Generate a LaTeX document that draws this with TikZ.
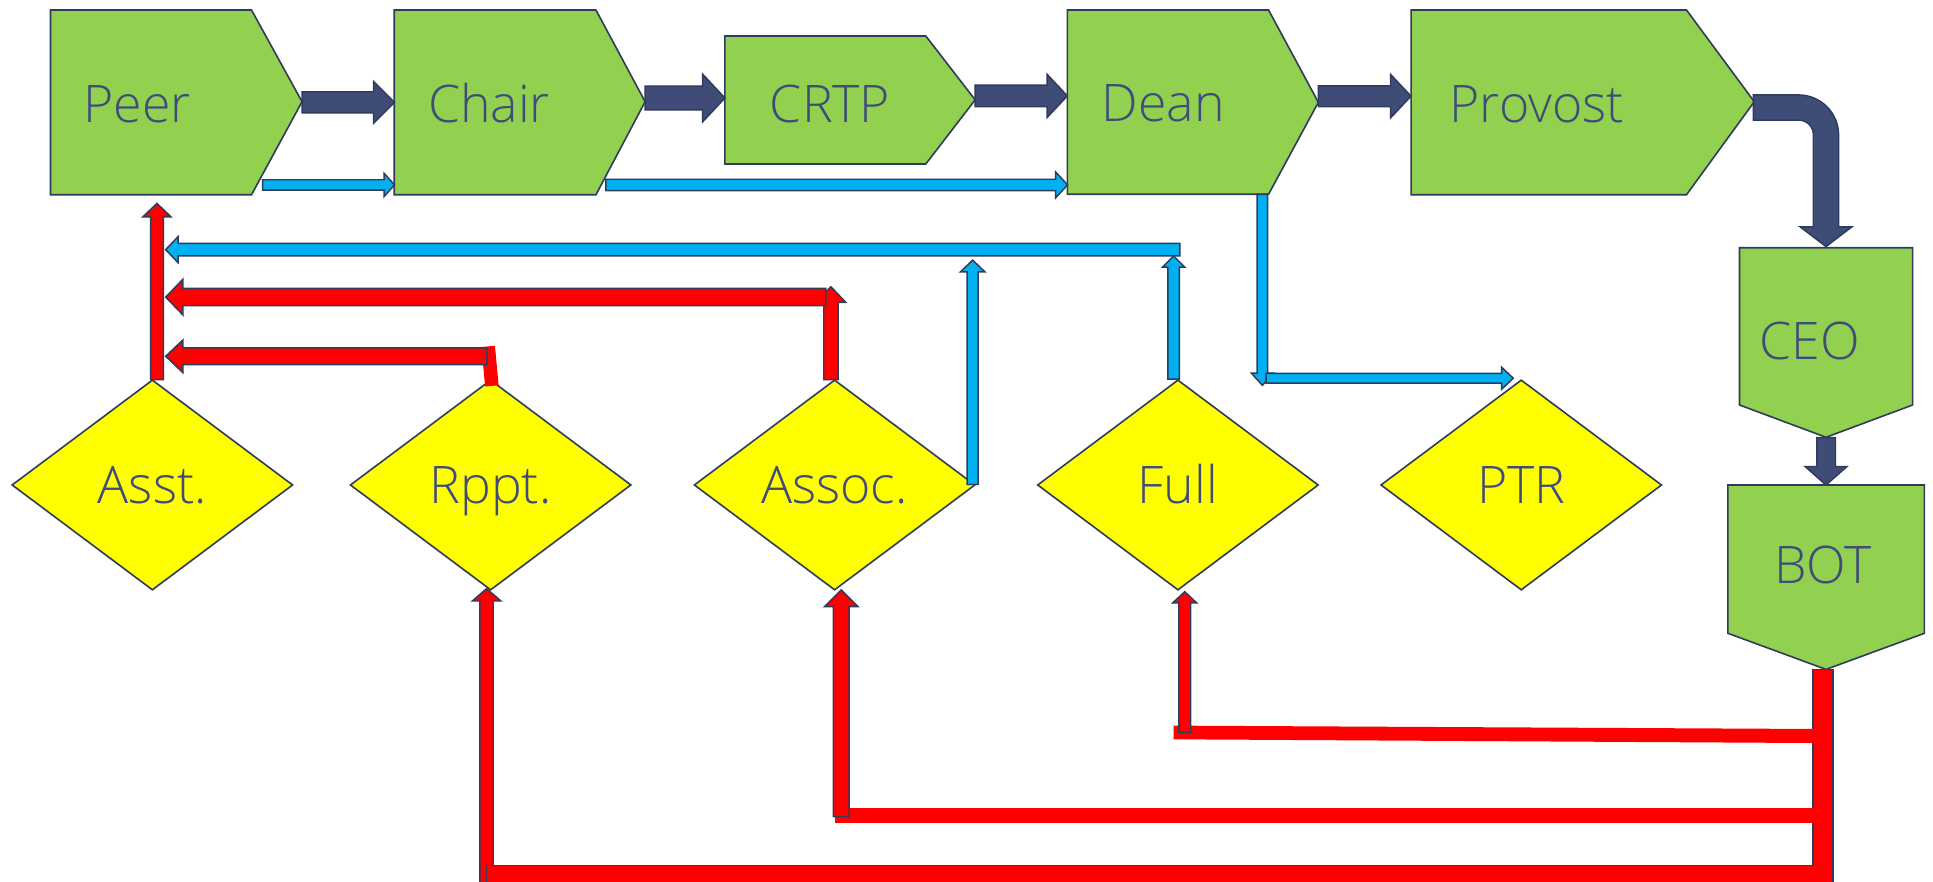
\documentclass[tikz,border=0pt]{standalone}
\usepackage{fontspec}
\setmainfont{Open Sans Light}
\usetikzlibrary{calc,shapes.geometric}
\definecolor{gfill}{RGB}{146,208,80}
\definecolor{edge}{HTML}{2F3B5B}
\definecolor{navy}{HTML}{3F4C77}
\definecolor{txt}{HTML}{3F4C7A}
\definecolor{ylw}{RGB}{255,255,0}
\definecolor{rd}{RGB}{255,0,0}
\definecolor{cy}{HTML}{00B0F0}
% #1 style, #2 from, #3 to, #4 half shaft, #5 half head, #6 head length
\newcommand\blockarrow[6]{%
  \filldraw[#1] let \p1=(#2), \p2=(#3),
    \n1={veclen(\x2-\x1,\y2-\y1)}, \n2={atan2(\y2-\y1,\x2-\x1)} in
    ($(\p1)+(\n2+90:#4pt)$)
    -- ($(\p1)+(\n2:\n1-#6pt)+(\n2+90:#4pt)$)
    -- ($(\p1)+(\n2:\n1-#6pt)+(\n2+90:#5pt)$)
    -- (\p2)
    -- ($(\p1)+(\n2:\n1-#6pt)+(\n2-90:#5pt)$)
    -- ($(\p1)+(\n2:\n1-#6pt)+(\n2-90:#4pt)$)
    -- ($(\p1)+(\n2-90:#4pt)$) -- cycle;}
\begin{document}
\begin{tikzpicture}[x=1pt,y=-1pt,line join=miter,
  box/.style={fill=gfill,draw=edge,line width=1.3pt},
  lbl/.style={anchor=west,inner sep=0pt,text height=30pt,text depth=0pt,text=txt,font=\fontsize{42}{50}\selectfont},
  dia/.style={diamond,draw=edge,fill=ylw,line width=1.3pt,minimum width=228pt,minimum height=170.6pt,inner sep=0pt,text height=30pt,text depth=0pt,text=txt,font=\fontsize{42}{50}\selectfont},
  navyA/.style={fill=navy,draw=edge,line width=1.2pt},
  blueA/.style={fill=cy,draw=edge,line width=1.2pt},
  redA/.style={fill=rd,draw=edge,line width=1.2pt}]
\useasboundingbox (0,0) rectangle (1568,715);

% ---- green boxes
\draw[box] (41,8.1) -- (204,8.1) -- (245,82.5) -- (204,158) -- (41,158) -- cycle;
\node[lbl] (peer) at (67.6,84) {Peer};
\draw[box] (319.8,8.1) -- (483.4,8.1) -- (523.3,82.5) -- (483.4,158) -- (319.8,158) -- cycle;
\node[lbl] (chair) at (347,84) {Chair};
\draw[box] (588,29.2) -- (751,29.2) -- (791,81) -- (751,133) -- (588,133) -- cycle;
\node[lbl] (crtp) at (624.3,84.6) {CRTP};
\draw[box] (865.8,8.1) -- (1029,8.1) -- (1069.4,83) -- (1029,157.6) -- (865.8,157.6) -- cycle;
\node[lbl] (dean) at (893.7,83.5) {Dean};
\draw[box] (1144.6,8.1) -- (1368,8.1) -- (1423,82.5) -- (1368,158) -- (1144.6,158) -- cycle;
\node[lbl] (provost) at (1175.7,84) {Provost};
\draw[box] (1411,201) -- (1551.5,201) -- (1551.5,328.5) -- (1481.2,354.7) -- (1411,328.5) -- cycle;
\node[lbl] (ceo) at (1427,277) {CEO};
\draw[box] (1401.6,393.4) -- (1561,393.4) -- (1561,513.7) -- (1481.2,543) -- (1401.6,513.7) -- cycle;
\node[lbl] (bot) at (1439,458) {BOT};

% ---- diamonds
\node[dia] (asst) at (123.6,393.4) {Asst.};
\node[dia] (rppt) at (398,393.4) {Rppt.};
\node[dia] (assoc) at (677,393.4) {Assoc.};
\node[dia] (full) at (955.5,393.4) {Full};
\node[dia] (ptr) at (1234,393.4) {PTR};

% ---- connector end points
\coordinate (peerTip) at (245,83);     \coordinate (chairIn) at (320,83);
\coordinate (chairTip) at (523.3,79.5); \coordinate (crtpIn) at (588,79.5);
\coordinate (crtpTip) at (791,77.8);   \coordinate (deanIn) at (865.8,77.8);
\coordinate (deanTip) at (1069.4,78);  \coordinate (provIn) at (1144.6,78);
\coordinate (ceoOut) at (1481.2,355);  \coordinate (botIn) at (1481.2,393.4);
\coordinate (peerLow) at (213,150);    \coordinate (chairLow) at (320,150);
\coordinate (chairLow2) at (491.4,150); \coordinate (deanLow) at (866,150);
\coordinate (busR) at (957,202.5);     \coordinate (busL) at (134.4,202.5);
\coordinate (fullTop) at (952,307.5);  \coordinate (busA) at (952,207.6);
\coordinate (assocE) at (789,393);     \coordinate (busB) at (789,211);
\coordinate (deanBot) at (1024,157.6); \coordinate (deanDown) at (1024,312.6);
\coordinate (ptrL) at (1027,306.8);    \coordinate (ptrTop) at (1227.5,306.8);
\coordinate (asstTop) at (127.3,308);  \coordinate (peerBot) at (127.3,165);
\coordinate (assocTop) at (674,308);   \coordinate (assocUp) at (674,232.6);
\coordinate (redAR) at (670,241);      \coordinate (redAL) at (134.4,241);
\coordinate (redRR) at (395,289);      \coordinate (redRL) at (134.4,289);
\coordinate (rpptTop) at (399,313);    \coordinate (rpptBar) at (396,281);
\coordinate (rpptLow) at (394.7,716);  \coordinate (rpptBot) at (394.7,477.5);
\coordinate (assocLow) at (682.4,662.5); \coordinate (assocBot) at (682.4,478.6);
\coordinate (fullLow) at (961,594);    \coordinate (fullBot) at (961,480);

% ---- navy flow arrows
\blockarrow{navyA}{peerTip}{chairIn}{8.5}{17}{17}
\blockarrow{navyA}{chairTip}{crtpIn}{9.7}{19.3}{18}
\blockarrow{navyA}{crtpTip}{deanIn}{8.7}{17.6}{16.5}
\blockarrow{navyA}{deanTip}{provIn}{8.4}{17.6}{16.6}
\blockarrow{navyA}{ceoOut}{botIn}{7.5}{17}{15}
\filldraw[navyA] (1422.2,77) -- (1458.9,77) arc[start angle=90,end angle=0,radius=32.5pt]
  -- (1491.4,184) -- (1502.2,184) -- (1481.2,200) -- (1460.2,184) -- (1471,184)
  -- (1471,109.4) arc[start angle=0,end angle=90,radius=12pt] -- (1422.2,97.4) -- cycle;

% ---- blue arrows
\blockarrow{blueA}{peerLow}{chairLow}{4.2}{9.5}{8.5}
\blockarrow{blueA}{chairLow2}{deanLow}{4.6}{10.5}{9.7}
\blockarrow{blueA}{busR}{busL}{5}{10.5}{10}
\blockarrow{blueA}{fullTop}{busA}{4.7}{9}{9}
\blockarrow{blueA}{assocE}{busB}{4.5}{10}{9.6}
\blockarrow{blueA}{deanBot}{deanDown}{4.3}{9}{10}
\blockarrow{blueA}{ptrL}{ptrTop}{4}{9}{9.5}

% ---- red arrows, upper
\blockarrow{redA}{asstTop}{peerBot}{5.2}{11.5}{11}
\blockarrow{redA}{assocTop}{assocUp}{5.8}{12}{12.6}
\blockarrow{redA}{redAR}{redAL}{7}{14.5}{14}
\draw[rd,line width=11pt] (rpptTop) -- (rpptBar);
\blockarrow{redA}{redRR}{redRL}{6.8}{13.3}{14}

% ---- red arrows, lower (from BOT)
\blockarrow{redA}{rpptLow}{rpptBot}{5.4}{11.6}{10}
\filldraw[redA] (1470.7,543) -- (1487,543) -- (1487,718) -- (394.7,718) -- (394.7,702.2) -- (1470.7,702.2) -- cycle;
\fill[rd] (677,655.5) rectangle (1486,667.3);
\fill[rd] (952,588.6) -- (1486,591.4) -- (1486,602.8) -- (952,599.7) -- cycle;
\blockarrow{redA}{assocLow}{assocBot}{6.4}{13.5}{13.5}
\blockarrow{redA}{fullLow}{fullBot}{4.8}{9.7}{9}
\end{tikzpicture}
\end{document}
